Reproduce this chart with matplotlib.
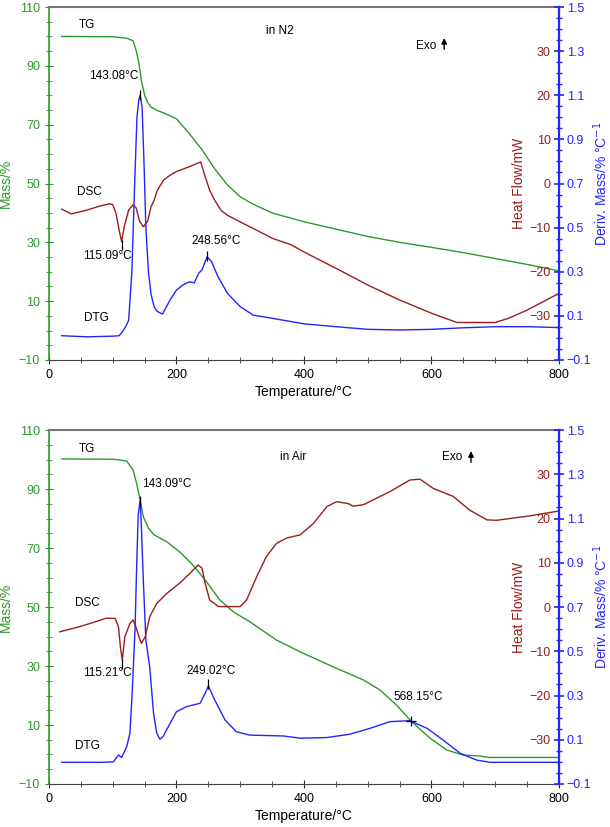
import numpy as np
import matplotlib
matplotlib.use("Agg")
import matplotlib.pyplot as plt
from matplotlib.ticker import MultipleLocator

plt.rcParams['font.family'] = ['Liberation Sans', 'DejaVu Sans']

GREEN = '#2a9a2a'
RED = '#9b1c1c'
BLUE = '#2424ff'

# ---- panel 1: in N2 ----
n2_tg_T = [20, 100, 122, 132, 137, 141, 145, 150, 155, 160, 170, 180, 200, 220, 240,
           260, 280, 300, 320, 350, 400, 450, 500, 550, 600, 650, 700, 750, 800]
n2_tg = [100, 99.9, 99.4, 98.5, 95, 91, 85, 80, 77.5, 76, 74.8, 74, 72, 67, 61.5,
         55, 49.5, 45.5, 43, 40, 37, 34.5, 32, 30, 28.3, 26.5, 24.5, 22.5, 20.3]

n2_dtg_T = [20, 60, 100, 110, 115, 120, 125, 130, 135, 138, 141, 143, 146, 149, 152,
            156, 160, 165, 170, 178, 190, 200, 210, 220, 228, 235, 240, 248, 255,
            265, 280, 300, 320, 350, 400, 450, 500, 550, 600, 650, 700, 750, 800]
n2_dtg = [0.01, 0.005, 0.008, 0.01, 0.027, 0.05, 0.08, 0.3, 0.75, 1.0, 1.08, 1.1, 1.05,
          0.8, 0.5, 0.3, 0.2, 0.14, 0.12, 0.108, 0.172, 0.217, 0.24, 0.254, 0.25,
          0.294, 0.308, 0.368, 0.346, 0.278, 0.202, 0.142, 0.104, 0.089, 0.064,
          0.051, 0.039, 0.036, 0.039, 0.046, 0.051, 0.051, 0.047]

n2_dsc_T = [20, 35, 60, 80, 95, 100, 105, 110, 114, 118, 125, 132, 137, 142, 148,
            155, 160, 165, 170, 180, 190, 200, 220, 235, 238, 245, 252, 260, 270,
            280, 300, 330, 350, 380, 400, 420, 450, 500, 550, 600, 640, 700, 720,
            750, 800]
n2_dsc = [-5.8, -6.9, -6.0, -5.1, -4.6, -4.8, -6.7, -10.5, -13.2, -9.8, -6.0, -4.8,
          -5.6, -8.5, -9.8, -8.5, -5.3, -3.8, -1.5, 0.8, 1.9, 2.7, 3.8, 4.7, 4.9,
          1.6, -1.5, -3.8, -6.1, -7.2, -8.7, -10.9, -12.4, -13.9, -15.5, -17,
          -19.2, -23, -26.4, -29.4, -31.5, -31.5, -30.6, -28.7, -24.9]

# ---- panel 2: in Air ----
air_tg_T = [20, 100, 122, 132, 137.5, 143, 148, 156, 164, 185, 205, 226, 247, 268,
            289, 315, 357, 394, 446, 493, 519, 545, 569, 598, 624, 650, 676, 690, 800]
air_tg = [100.2, 100.1, 99.5, 96.4, 91.9, 86.3, 80.6, 76.8, 74.6, 72.1, 68.7, 64.2,
          58.6, 52.4, 48.4, 45, 38.8, 34.8, 29.7, 25.3, 21.9, 16.8, 11.1, 5.5, 1.5,
          -0.2, -0.5, -1.0, -1.0]

air_dtg_T = [20, 80, 101, 109, 114, 122, 127, 131, 135, 137.5, 140, 143, 145, 148,
             152, 158, 164, 169, 174, 179, 190, 200, 216, 237, 245, 250, 260, 276,
             294, 315, 368, 394, 436, 472, 504, 535, 566, 593, 618, 645, 671, 692, 800]
air_dtg = [-0.002, -0.002, 0.0, 0.031, 0.02, 0.069, 0.13, 0.34, 0.6, 0.88, 1.12, 1.18,
           1.06, 0.82, 0.55, 0.43, 0.22, 0.13, 0.102, 0.115, 0.174, 0.227, 0.25,
           0.265, 0.31, 0.343, 0.28, 0.19, 0.136, 0.121, 0.117, 0.107, 0.11, 0.125,
           0.152, 0.182, 0.186, 0.152, 0.099, 0.039, 0.008, -0.002, -0.002]

air_dsc_T = [17, 49, 80, 90, 104, 109, 112, 115, 119, 127, 132, 137.5, 142, 145, 151,
             158, 169, 185, 205, 221, 234, 240, 245, 252, 266, 300, 310, 326, 341,
             357, 373, 394, 415, 436, 451, 469, 477, 493, 535, 566, 582, 603, 634,
             660, 687, 702, 754, 800]
air_dsc = [-5.6, -4.4, -3.0, -2.5, -2.6, -4.5, -9.0, -12.0, -6.7, -3.7, -2.9, -5.0,
           -7.1, -8.2, -6.7, -2.2, 0.8, 3.1, 5.4, 7.6, 9.5, 8.8, 5.4, 1.6, 0.1, 0.1,
           1.6, 6.9, 11.4, 14.4, 15.6, 16.3, 18.9, 22.7, 23.8, 23.4, 22.8, 23.1, 26.1,
           28.7, 28.9, 26.8, 25.0, 21.9, 19.7, 19.6, 20.6, 21.7]

# labels: (text, T, mass)
n2_texts = [("TG", 60, 104), ("in N2", 362, 101.8), ("Exo", 592, 96.7),
            ("143.08°C", 102, 86.5), ("DSC", 64, 47), ("115.09°C", 91, 25.3),
            ("248.56°C", 262, 30.4), ("DTG", 74, 4.2)]
air_texts = [("TG", 60, 103.6), ("in Air", 383, 101), ("Exo", 632, 101),
             ("143.09°C", 185, 91.7), ("DSC", 60, 51.4), ("115.21°C", 91, 27.6),
             ("249.02°C", 254, 28.3), ("DTG", 60, 2.9), ("568.15°C", 580, 19.5)]


def draw_panel(rect, tg_T, tg, dtg_T, dtg, dsc_T, dsc, texts, exo_x, exo_y,
               dtg_marks, dsc_marks, plus_mark=None):
    ax = fig.add_axes(rect)
    ax2 = ax.twinx()
    ax3 = ax.twinx()

    ax.plot(tg_T, tg, color=GREEN, lw=1.0)
    ax2.plot(dtg_T, dtg, color=BLUE, lw=1.0)
    ax3.plot(dsc_T, dsc, color=RED, lw=1.0)

    ax.set_xlim(0, 800)
    ax.set_ylim(-10, 110)
    ax2.set_ylim(-0.1, 1.5)
    ax3.set_ylim(-40, 40)

    ax.xaxis.set_major_locator(MultipleLocator(200))
    ax.xaxis.set_minor_locator(MultipleLocator(50))
    ax.set_yticks(np.arange(-10, 111, 20))
    ax.set_yticklabels(['−10', '10', '30', '50', '70', '90', '110'])
    ax.yaxis.set_minor_locator(MultipleLocator(5))
    ax2.set_yticks(np.arange(-0.1, 1.51, 0.2))
    ax2.set_yticklabels(['−0.1', '0.1', '0.3', '0.5', '0.7', '0.9', '1.1', '1.3', '1.5'])
    ax2.yaxis.set_minor_locator(MultipleLocator(0.05))
    ax3.set_yticks(np.arange(-30, 31, 10))

    ax.tick_params(axis='x', which='major', direction='inout', length=6, labelsize=9,
                   colors='#333333', labelcolor='black')
    ax.tick_params(axis='x', which='minor', direction='inout', length=4, colors='#333333')
    ax.tick_params(axis='y', which='major', direction='inout', length=6, labelsize=9,
                   colors=GREEN)
    ax.tick_params(axis='y', which='minor', direction='inout', length=4, colors=GREEN)
    ax2.tick_params(axis='y', which='major', direction='inout', length=7, width=1.2,
                    labelsize=9, colors=BLUE, pad=2)
    ax2.tick_params(axis='y', which='minor', direction='inout', length=5, width=1.0,
                    colors=BLUE)
    ax3.tick_params(axis='y', which='major', length=0, pad=-6, labelsize=9,
                    labelcolor=RED)
    ax3.set_yticklabels(['−30', '−20', '−10', '0', '10', '20', '30'], ha='right')

    ax.spines['left'].set_color(GREEN)
    ax.spines['left'].set_linewidth(1.2)
    ax.spines['top'].set_color('#777777')
    ax.spines['top'].set_linewidth(1.5)
    ax.spines['bottom'].set_color('#444444')
    for a in (ax2, ax3):
        a.spines['right'].set_color(BLUE)
        a.spines['right'].set_linewidth(1.5)
        a.spines['top'].set_visible(False)
        a.spines['left'].set_visible(False)
        a.spines['bottom'].set_visible(False)

    ax.set_xlabel('Temperature/°C', fontsize=10, labelpad=3)
    ax.set_ylabel('Mass/%', fontsize=10, color=GREEN, labelpad=4)
    ax2.set_ylabel('Deriv. Mass/% °C$^{-1}$', fontsize=10, color=BLUE, labelpad=0)
    ax3.set_ylabel('Heat Flow/mW', fontsize=10, color=RED, labelpad=-34)

    for s, x, y in texts:
        ax3.text(x, y, s, transform=ax.transData, fontsize=8.5, ha='center', va='center')
    ax3.annotate('', xy=(exo_x, exo_y + 3.2), xytext=(exo_x, exo_y - 2.5),
                 xycoords=ax.transData, textcoords=ax.transData,
                 arrowprops=dict(arrowstyle='-|>', color='k', lw=1.0,
                                 mutation_scale=8))

    for x, y in dtg_marks:
        ax2.plot([x], [y], marker='|', color='k', ms=7, mew=0.9)
    for x, y in dsc_marks:
        ax3.plot([x], [y], marker='|', color='k', ms=7, mew=0.9)
    if plus_mark is not None:
        ax2.plot([plus_mark[0]], [plus_mark[1]], marker='+', color='k', ms=7, mew=0.9)
    return ax


fig = plt.figure(figsize=(6.10, 8.27), dpi=100)

draw_panel([0.0803, 0.5647, 0.836, 0.4268], n2_tg_T, n2_tg, n2_dtg_T, n2_dtg,
           n2_dsc_T, n2_dsc, n2_texts, 620, 97.2,
           [(143.08, 1.1), (248.56, 0.372)], [(115.09, -14.0)])
draw_panel([0.0803, 0.0520, 0.836, 0.428], air_tg_T, air_tg, air_dtg_T, air_dtg,
           air_dsc_T, air_dsc, air_texts, 662, 100.6,
           [(143.09, 1.18), (249.02, 0.35)], [(115.21, -12.8)],
           plus_mark=(568.15, 0.186))

fig.savefig("out.png", dpi=100)
